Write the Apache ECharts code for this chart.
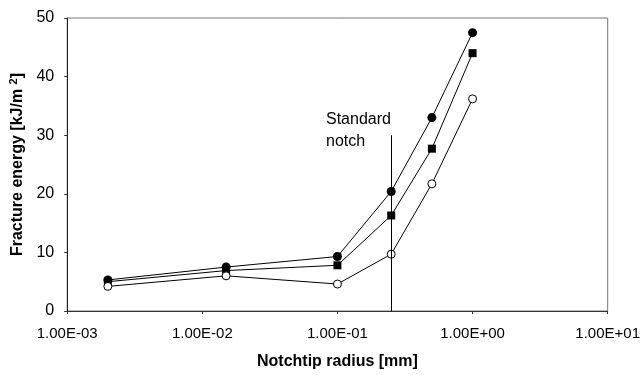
<!DOCTYPE html>
<html>
<head>
<meta charset="utf-8">
<script src="https://cdn.jsdelivr.net/npm/echarts@6/dist/echarts.min.js"></script>
<style>html,body{margin:0;padding:0;background:#fff;}#c{width:643px;height:375px;}</style>
</head>
<body>
<div id="c"></div>
<script>
var radius = [0.002, 0.015, 0.1, 0.25, 0.5, 1.0];
var filledCircle = [5.3, 7.5, 9.3, 20.4, 33.0, 47.5];
var filledSquare = [5.0, 6.9, 7.8, 16.3, 27.7, 44.0];
var openCircle = [4.2, 6.0, 4.6, 9.7, 21.7, 36.2];
var xTickLabels = ['1.00E-03', '1.00E-02', '1.00E-01', '1.00E+00', '1.00E+01'];
var yTickValues = [0, 10, 20, 30, 40, 50];
var standardNotch = 0.25;
var standardNotchTop = 30;

function pairs(xs, ys) { return xs.map(function (x, i) { return [x, ys[i]]; }); }

var font = 'Liberation Sans, Arial, sans-serif';
var chart = echarts.init(document.getElementById('c'), null, {renderer: 'canvas'});
var lineStyle = {color: '#000', width: 1};
chart.setOption({
  animation: false,
  backgroundColor: '#fff',
  grid: {left: 66, top: 18, right: 34, bottom: 62, show: true, borderColor: '#777', borderWidth: 1},
  xAxis: {
    type: 'log', logBase: 10, min: 0.001, max: 10,
    name: 'Notchtip radius [mm]', nameLocation: 'middle', nameGap: 43,
    nameTextStyle: {fontFamily: font, fontSize: 16, fontWeight: 'bold', color: '#000'},
    axisLine: {show: true, lineStyle: {color: '#333', width: 1}},
    axisTick: {show: true, length: 3, lineStyle: {color: '#333'}},
    splitLine: {show: false},
    minorTick: {show: false},
    axisLabel: {
      fontFamily: font, fontSize: 15, color: '#000', margin: 15,
      formatter: function (v) { var e = Math.round(Math.log10(v)); return xTickLabels[e + 3]; }
    }
  },
  yAxis: {
    type: 'value', min: 0, max: 50, interval: 10,
    name: 'Fracture energy [kJ/m {sup|2}]', nameLocation: 'middle', nameGap: 38, nameRotate: 90,
    nameTextStyle: {fontFamily: font, fontSize: 16, fontWeight: 'bold', color: '#000',
      rich: {sup: {fontFamily: font, fontSize: 11, fontWeight: 'bold', color: '#000', verticalAlign: 'top', padding: [0,0,8,0]}}},
    axisLine: {show: true, lineStyle: {color: '#222', width: 1}},
    axisTick: {show: true, length: 3, lineStyle: {color: '#333'}},
    splitLine: {show: false},
    axisLabel: {fontFamily: font, fontSize: 16, color: '#000', margin: 13,
      formatter: function (v) { return yTickValues.indexOf(v) >= 0 ? String(v) : ''; }}
  },
  series: [
    {type: 'line', data: pairs(radius, filledCircle), symbol: 'circle', symbolSize: 9,
     lineStyle: lineStyle, itemStyle: {color: '#000'}, z: 3,
     markLine: {silent: true, symbol: 'none', label: {show: false},
       lineStyle: {color: '#000', width: 1, type: 'solid'},
       data: [[{coord: [standardNotch, 0]}, {coord: [standardNotch, standardNotchTop]}]]}},
    {type: 'line', data: pairs(radius, filledSquare), symbol: 'rect', symbolSize: 8,
     lineStyle: lineStyle, itemStyle: {color: '#000'}, z: 3},
    {type: 'line', data: pairs(radius, openCircle), symbol: 'circle', symbolSize: 8,
     lineStyle: lineStyle, itemStyle: {color: '#fff', borderColor: '#000', borderWidth: 1}, z: 3}
  ],
  graphic: [
    {type: 'text', left: 326, top: 109, style: {text: 'Standard\nnotch', fontFamily: font, fontSize: 16, lineHeight: 22, fill: '#000'}}
  ]
});
</script>
</body>
</html>
